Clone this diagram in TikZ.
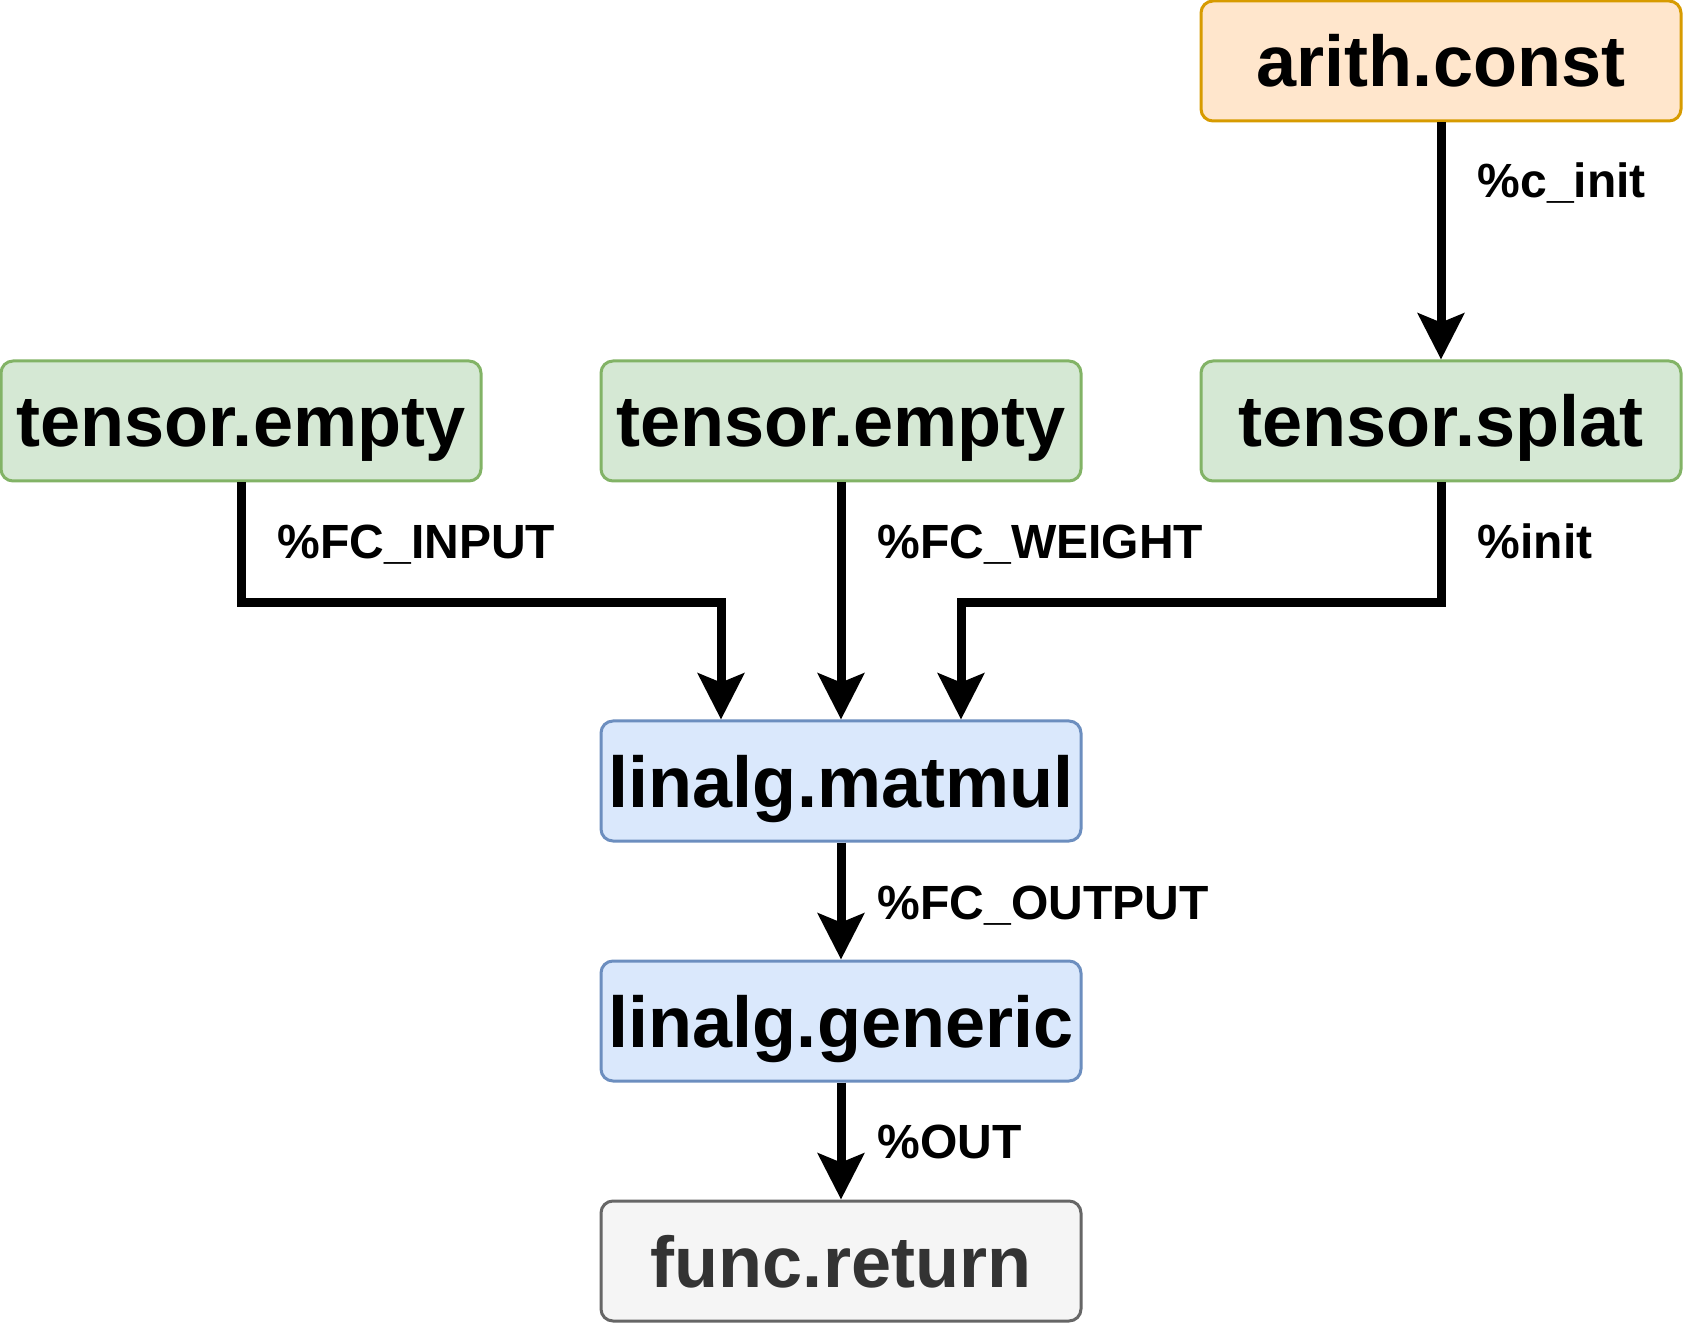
\documentclass[tikz,border=0pt]{standalone}
\usepackage{fontspec}
\setmainfont{Liberation Sans}
\usetikzlibrary{arrows.meta}
\definecolor{constfill}{HTML}{FFE6CC}
\definecolor{constline}{HTML}{D79B00}
\definecolor{tensorfill}{HTML}{D5E8D4}
\definecolor{tensorline}{HTML}{82B366}
\definecolor{linalgfill}{HTML}{DAE8FC}
\definecolor{linalgline}{HTML}{6C8EBF}
\definecolor{funcfill}{HTML}{F5F5F5}
\definecolor{funcline}{HTML}{666666}
\definecolor{functext}{HTML}{333333}

\begin{document}
\begin{tikzpicture}[
  op/.style={rectangle, rounded corners=0.12cm, line width=0.03cm,
    minimum width=4.8cm, minimum height=1.2cm, inner sep=0pt,
    text height=0.52cm, text depth=0cm,
    font=\fontsize{20.5pt}{24pt}\selectfont\bfseries},
  constop/.style={op, fill=constfill, draw=constline},
  tensorop/.style={op, fill=tensorfill, draw=tensorline},
  linalgop/.style={op, fill=linalgfill, draw=linalgline},
  funcop/.style={op, fill=funcfill, draw=funcline, text=functext},
  flow/.style={line width=0.09cm, -{Stealth[length=0.46cm, width=0.46cm, inset=0.09cm]}},
  val/.style={inner sep=0pt, anchor=base west,
    font=\fontsize{13.66pt}{16pt}\selectfont\bfseries}
]
\useasboundingbox (0,0) rectangle (16.83,-13.23);
% Operations
\node[constop]  (const)   at (14.41,-0.61)  {arith.const};
\node[tensorop] (input)   at (2.41,-4.21)   {tensor.empty};
\node[tensorop] (weight)  at (8.41,-4.21)   {tensor.empty};
\node[tensorop] (splat)   at (14.41,-4.21)  {tensor.splat};
\node[linalgop] (matmul)  at (8.41,-7.81)   {linalg.matmul};
\node[linalgop] (generic) at (8.41,-10.21)  {linalg.generic};
\node[funcop]   (ret)     at (8.41,-12.61)  {func.return};
% Data flow
\draw[flow] (const) -- (splat);
\draw[flow] (input.south) -- ++(0,-1.2) -| ([xshift=-1.2cm]matmul.north);
\draw[flow] (weight) -- (matmul);
\draw[flow] (splat.south) -- ++(0,-1.2) -| ([xshift=1.2cm]matmul.north);
\draw[flow] (matmul) -- (generic);
\draw[flow] (generic) -- (ret);
% Value names
\node[val] (cinit)    at (14.77,-1.98) {\%c\_init};
\node[val] (fcinput)  at (2.77,-5.59)  {\%FC\_INPUT};
\node[val] (fcweight) at (8.77,-5.59)  {\%FC\_WEIGHT};
\node[val] (init)     at (14.77,-5.59) {\%init};
\node[val] (fcoutput) at (8.77,-9.19)  {\%FC\_OUTPUT};
\node[val] (out)      at (8.77,-11.58) {\%OUT};
\end{tikzpicture}
\end{document}
